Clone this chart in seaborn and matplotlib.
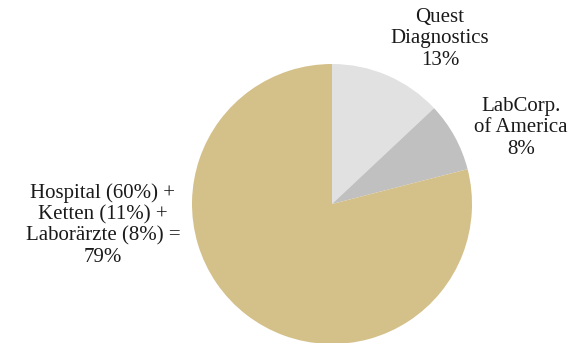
import matplotlib
matplotlib.use("Agg")
import matplotlib.pyplot as plt
import seaborn as sns

labels = ["Quest\nDiagnostics\n13%", "LabCorp.\nof America\n8%",
          "Hospital (60%) +\nKetten (11%) +\nLaborärzte (8%) =\n79%"]
shares = [13, 8, 79]
colors = ["#e1e1e1", "#c0c0c0", "#d4c089"]


def plot_market_share(output_path=None):
    sns.set_theme(style="white")
    plt.rcParams["font.family"] = ["Liberation Serif", "DejaVu Serif"]
    fig = plt.figure(figsize=(5.75, 3.43), dpi=100)
    ax = fig.add_axes([0, 0, 1, 1])
    ax.pie(shares, colors=colors, startangle=90, counterclock=False,
           radius=140, center=(332, 139), frame=True,
           wedgeprops={"linewidth": 0})
    ax.set_xlim(0, 575)
    ax.set_ylim(0, 343)
    ax.axis("off")
    text_kw = dict(ha="center", va="center", fontsize=15,
                   color="#1a1a1a", linespacing=1.17)
    ax.text(440, 304, labels[0], **text_kw)
    ax.text(521, 215, labels[1], **text_kw)
    ax.text(103, 118, labels[2], **text_kw)
    if output_path:
        fig.savefig(output_path, dpi=100)


if __name__ == "__main__":
    plot_market_share("out.png")
